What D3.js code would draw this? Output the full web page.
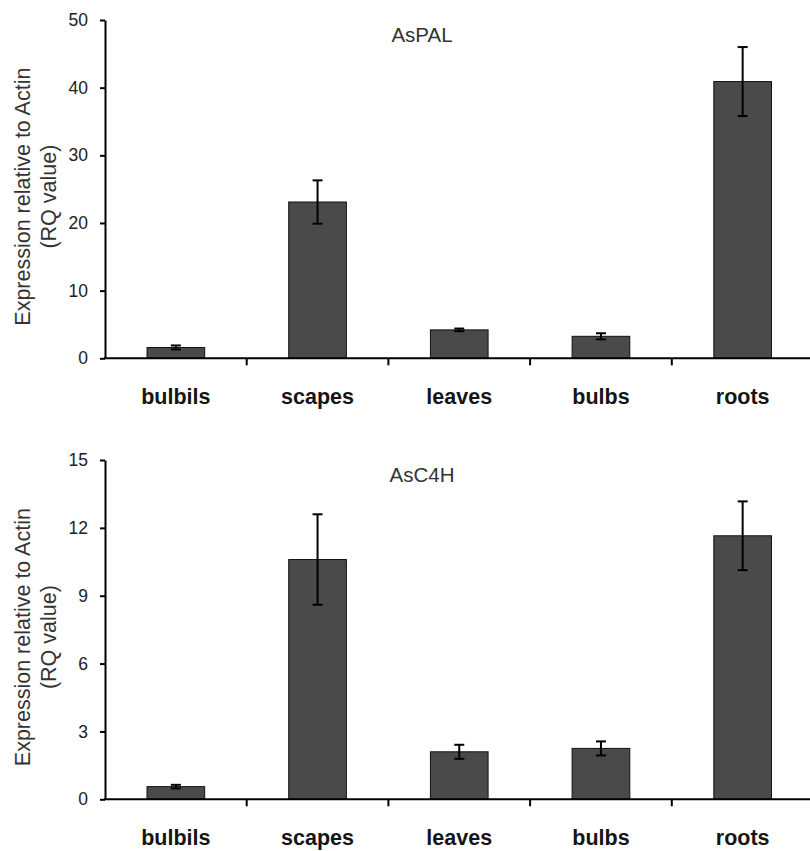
<!DOCTYPE html>
<html>
<head>
<meta charset="utf-8">
<script src="https://cdn.jsdelivr.net/npm/d3@7"></script>
<style>
	body { margin: 0; background: #fff; }
	svg { display: block; }
	text { font-family: Arial, "Liberation Sans", sans-serif; }
</style>
</head>
<body>
<div id="chart"></div>
<script>
// categories and values
var categories = ["bulbils", "scapes", "leaves", "bulbs", "roots"];

var palValues = [1.6, 23.1, 4.2, 3.25, 40.9];
var palErrors = [0.3, 3.2, 0.2, 0.45, 5.1];
var palTicks = [0, 10, 20, 30, 40, 50];

var c4hValues = [0.56, 10.6, 2.1, 2.25, 11.65];
var c4hErrors = [0.08, 2.0, 0.31, 0.31, 1.52];
var c4hTicks = [0, 3, 6, 9, 12, 15];

var width = 810, height = 851;

var svg = d3.select("#chart").append("svg")
	.attr("width", width)
	.attr("height", height);

// both panels share the same x layout
var x = d3.scaleBand()
	.domain(categories)
	.range([105, 813.5])
	.paddingInner(0.593)
	.paddingOuter(0.2965);

function drawPanel(title, values, errors, ticks, top, bottom) {
	var g = svg.append("g");

	var y = d3.scaleLinear()
		.domain([ticks[0], ticks[ticks.length - 1]])
		.range([bottom, top]);

	// --- bars --- \\
	g.selectAll(".bar").data(values).enter().append("rect")
		.attr("class", "bar")
		.attr("x", function (d, i) { return x(categories[i]); })
		.attr("y", function (d) { return y(d); })
		.attr("width", x.bandwidth())
		.attr("height", function (d) { return y(0) - y(d); })
		.attr("fill", "#4a4a4a")
		.attr("stroke", "#111")
		.attr("stroke-width", 1);

	// --- error bars --- \\
	var capHalf = 5;
	var err = g.selectAll(".err").data(values).enter().append("g")
		.attr("class", "err")
		.attr("stroke", "#000")
		.attr("stroke-width", 2);
	err.append("line")
		.attr("x1", function (d, i) { return x(categories[i]) + x.bandwidth() / 2; })
		.attr("x2", function (d, i) { return x(categories[i]) + x.bandwidth() / 2; })
		.attr("y1", function (d, i) { return y(d + errors[i]); })
		.attr("y2", function (d, i) { return y(d - errors[i]); });
	err.append("line")
		.attr("x1", function (d, i) { return x(categories[i]) + x.bandwidth() / 2 - capHalf; })
		.attr("x2", function (d, i) { return x(categories[i]) + x.bandwidth() / 2 + capHalf; })
		.attr("y1", function (d, i) { return y(d + errors[i]); })
		.attr("y2", function (d, i) { return y(d + errors[i]); });
	err.append("line")
		.attr("x1", function (d, i) { return x(categories[i]) + x.bandwidth() / 2 - capHalf; })
		.attr("x2", function (d, i) { return x(categories[i]) + x.bandwidth() / 2 + capHalf; })
		.attr("y1", function (d, i) { return y(d - errors[i]); })
		.attr("y2", function (d, i) { return y(d - errors[i]); });

	// --- y axis --- \\
	var yAxis = g.append("g")
		.attr("transform", "translate(105,0)")
		.call(d3.axisLeft(y).tickValues(ticks).tickSize(5).tickPadding(12).tickSizeOuter(0));
	yAxis.select(".domain").attr("stroke", "#000").attr("stroke-width", 2);
	yAxis.selectAll(".tick line").attr("stroke", "#000").attr("stroke-width", 2);
	yAxis.selectAll(".tick text")
		.attr("font-size", 17.5)
		.attr("fill", "#222")
		.attr("font-family", "Arial, 'Liberation Sans', sans-serif");

	// --- x axis --- \\
	var y0 = y(0);
	g.append("line")
		.attr("x1", 104).attr("x2", width)
		.attr("y1", y0).attr("y2", y0)
		.attr("stroke", "#000").attr("stroke-width", 2);

	// tick marks sit between the bars
	g.selectAll(".xtick").data(categories.slice(1)).enter().append("line")
		.attr("class", "xtick")
		.attr("x1", function (d) { return x(d) - x.step() * x.paddingInner() / 2; })
		.attr("x2", function (d) { return x(d) - x.step() * x.paddingInner() / 2; })
		.attr("y1", y0).attr("y2", y0 + 7)
		.attr("stroke", "#000").attr("stroke-width", 2);

	g.selectAll(".xlabel").data(categories).enter().append("text")
		.attr("class", "xlabel")
		.attr("x", function (d) { return x(d) + x.bandwidth() / 2; })
		.attr("y", y0 + 46)
		.attr("text-anchor", "middle")
		.attr("font-size", 21.5)
		.attr("font-weight", "bold")
		.attr("fill", "#151515")
		.text(function (d) { return d; });

	// --- title --- \\
	g.append("text")
		.attr("x", 422)
		.attr("y", top + 21.7)
		.attr("text-anchor", "middle")
		.attr("font-size", 20.5)
		.attr("fill", "#333")
		.text(title);

	// --- y axis label (two lines, rotated) --- \\
	var midY = (top + bottom) / 2 + 7.5;
	var yLab = g.append("text")
		.attr("transform", "translate(29.5," + midY + ") rotate(-90)")
		.attr("text-anchor", "middle")
		.attr("font-size", 21.5)
		.attr("fill", "#333");
	yLab.append("tspan").attr("x", 0).attr("y", 0).text("Expression relative to Actin");
	yLab.append("tspan").attr("x", 0).attr("y", 26).text("(RQ value)");
}

drawPanel("AsPAL", palValues, palErrors, palTicks, 20, 358.3);
drawPanel("AsC4H", c4hValues, c4hErrors, c4hTicks, 460, 799.3);
</script>
</body>
</html>
